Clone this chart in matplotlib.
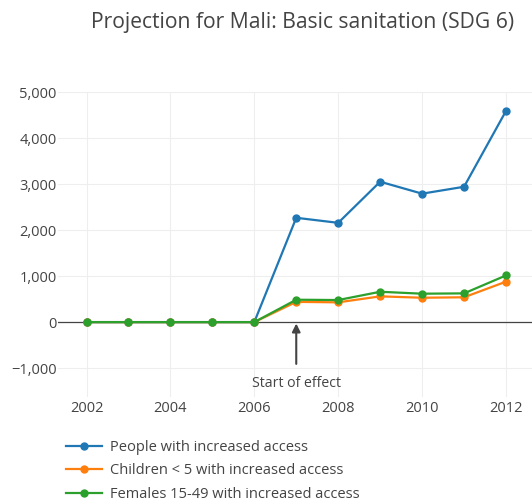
import matplotlib
matplotlib.use("Agg")
import matplotlib.pyplot as plt

plt.rcParams['font.family'] = ['Open Sans', 'DejaVu Sans']

# data
years = [2002, 2003, 2004, 2005, 2006, 2007, 2008, 2009, 2010, 2011, 2012]
people = [0, 0, 0, 0, 0, 2270, 2160, 3055, 2795, 2945, 4595]
children = [0, 0, 0, 0, 0, 440, 430, 560, 530, 540, 880]
females = [0, 0, 0, 0, 0, 487, 480, 660, 618, 625, 1015]

series = [
    ('People with increased access', people, '#1f77b4'),
    ('Children < 5 with increased access', children, '#ff7f0e'),
    ('Females 15-49 with increased access', females, '#2ca02c'),
]

txt = '#444444'
fs = 10.5

fig = plt.figure(figsize=(5.32, 5.01), dpi=100)
ax = fig.add_axes([0.109, 0.2076, 0.891, 0.609])

for label, vals, col in series:
    ax.plot(years, vals, color=col, lw=1.6, marker='o', markersize=5,
            label=label, zorder=3, clip_on=False)

ax.set_xlim(2001.32, 2012.62)
ax.set_ylim(-1630, 5010)
ax.set_xticks([2002, 2004, 2006, 2008, 2010, 2012])
ax.set_yticks([-1000, 0, 1000, 2000, 3000, 4000, 5000])
ax.set_yticklabels(['\u22121,000', '0', '1,000', '2,000', '3,000', '4,000', '5,000'])
ax.grid(True, color='#eeeeee', lw=0.8)
ax.set_axisbelow(True)
ax.axhline(0, color=txt, lw=0.9, zorder=2)
for s in ax.spines.values():
    s.set_visible(False)
ax.tick_params(length=0, labelsize=fs, colors=txt)
ax.tick_params(axis='y', pad=1)
ax.tick_params(axis='x', pad=3)

# arrow marking when the effect starts
ax.annotate('Start of effect', xy=(2007, 0), xytext=(2007, -1345),
            ha='center', va='center', fontsize=10.2, color=txt,
            arrowprops=dict(arrowstyle='-|>', color=txt, lw=1.5,
                            mutation_scale=12, shrinkA=7, shrinkB=1))

fig.text(0.569, 0.955, 'Projection for Mali: Basic sanitation (SDG 6)',
         ha='center', va='center', fontsize=15.2, color=txt)

fig.legend(loc='upper left', bbox_to_anchor=(0.124, 0.122), frameon=False,
           fontsize=fs, labelcolor=txt, handlelength=2.5, handletextpad=0.55,
           labelspacing=0.58, borderaxespad=0, borderpad=0)

fig.savefig('out.png', dpi=100)
